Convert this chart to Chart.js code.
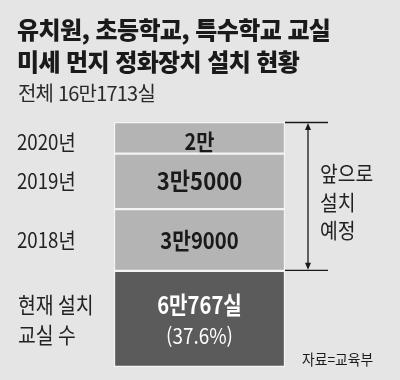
<!DOCTYPE html>
<html lang="ko">
<head>
<meta charset="utf-8">
<script src="https://cdn.jsdelivr.net/npm/chart.js@4/dist/chart.umd.min.js"></script>
<style>
  html, body { margin:0; padding:0; background:#e5e5e5; }
  body { width:400px; height:380px; position:relative; overflow:hidden; font-family:"Noto Sans CJK KR", "Noto Sans", sans-serif; color:#1e1e1e; }
  #wrap { position:absolute; left:0; top:0; width:400px; height:380px; }
  .title { position:absolute; left:17px; top:13px; font-size:24px; font-weight:900; line-height:32px; letter-spacing:-0.6px; white-space:nowrap; color:#1a1a1a; }
  .sub { position:absolute; left:18px; top:80px; font-size:20px; font-weight:400; line-height:25px; letter-spacing:-0.8px; white-space:nowrap; color:#2a2a2a; }
</style>
</head>
<body>
<div id="wrap"><canvas id="c" width="400" height="380"></canvas></div>
<div class="title">유치원, 초등학교, 특수학교 교실<br>미세 먼지 정화장치 설치 현황</div>
<div class="sub">전체 16만1713실</div>
<script>
// ---- data (bottom to top) ----
const categories = [['현재 설치', '교실 수'], ['2018년'], ['2019년'], ['2020년']];
const values = [60767, 39000, 35000, 20000];
const totalClassrooms = 161713;
const bracketLabel = ['앞으로', '설치', '예정'];
const sourceLabel = '자료=교육부';
const colors = ['#5b5b5b', '#b4b4b4', '#b4b4b4', '#b4b4b4'];

function man(v) {
  const m = Math.floor(v / 10000), r = v % 10000;
  return m + '만' + (r ? r : '');
}

const FONT = '"Noto Sans CJK KR", "Noto Sans", sans-serif';
function txt(ctx, s, x, y, size, weight, color, align, sx) {
  ctx.save();
  ctx.translate(x, y);
  ctx.scale(sx || 1, 1);
  ctx.font = weight + ' ' + size + 'px ' + FONT;
  ctx.fillStyle = color;
  ctx.textAlign = align || 'left';
  ctx.textBaseline = 'middle';
  ctx.fillText(s, 0, 0);
  ctx.restore();
}

const sum = values.reduce((a, b) => a + b, 0);

const labelPlugin = {
  id: 'labels',
  afterDatasetsDraw(chart) {
    const ctx = chart.ctx;
    const els = values.map((v, i) => chart.getDatasetMeta(i).data[0]);
    els.forEach((el, i) => {
      const cy = (el.y + el.base) / 2;
      const cx = el.x;
      if (i === 0) {
        txt(ctx, man(values[0]) + '실', cx, cy - 14, 24, 700, '#ffffff', 'center', 0.84);
        const pct = (values[0] / totalClassrooms * 100).toFixed(1);
        txt(ctx, '(' + pct + '%)', cx, cy + 17, 21, 400, '#ffffff', 'center', 0.9);
        txt(ctx, categories[0][0], 18, cy - 14, 22, 400, '#222', 'left', 0.88);
        txt(ctx, categories[0][1], 18, cy + 16, 22, 400, '#222', 'left', 0.88);
      } else {
        const size = i === 3 ? 22 : (i === 2 ? 24 : 23);
        const sx = i === 3 ? 0.9 : (i === 2 ? 0.92 : 0.88);
        txt(ctx, man(values[i]), cx, cy + (i === 3 ? 4 : 0), size, 700, '#1a1a1a', 'center', sx);
        txt(ctx, categories[i][0], 17, cy + (i === 3 ? 4 : 0), 21, 400, '#222', 'left', 0.89);
      }
    });
    // bracket
    const topY = els[3].y, botY = els[1].base;
    const right = els[0].x + els[0].width / 2;
    const ax = 308;
    ctx.save();
    ctx.strokeStyle = '#1a1a1a';
    ctx.fillStyle = '#1a1a1a';
    ctx.lineWidth = 1.3;
    ctx.beginPath();
    ctx.moveTo(right, topY + 0.5); ctx.lineTo(328, topY + 0.5);
    ctx.moveTo(right, botY - 0.5); ctx.lineTo(328, botY - 0.5);
    ctx.moveTo(ax, topY + 6); ctx.lineTo(ax, botY - 6);
    ctx.stroke();
    ctx.beginPath();
    ctx.moveTo(ax, topY + 1); ctx.lineTo(ax - 3, topY + 8); ctx.lineTo(ax + 3, topY + 8); ctx.closePath();
    ctx.moveTo(ax, botY - 1); ctx.lineTo(ax - 3, botY - 8); ctx.lineTo(ax + 3, botY - 8); ctx.closePath();
    ctx.fill();
    ctx.restore();
    const mid = (topY + botY) / 2;
    [-23, 6, 34].forEach((off, k) => {
      txt(ctx, bracketLabel[k], 320, mid + off, 21, 400, '#222', 'left', 0.92);
    });
    txt(ctx, sourceLabel, 302, 359, 15, 400, '#1a1a1a', 'left', 0.92);
  }
};

new Chart(document.getElementById('c'), {
  type: 'bar',
  data: {
    labels: ['교실'],
    datasets: values.map((v, i) => ({
      label: categories[i].join(' '),
      data: [v],
      backgroundColor: colors[i],
      borderColor: '#f4f4f4',
      borderWidth: 1.5,
      borderSkipped: false,
      barPercentage: 1,
      categoryPercentage: 1
    }))
  },
  options: {
    responsive: false,
    devicePixelRatio: 1,
    animation: false,
    layout: { padding: { top: 122, bottom: 13, left: 114, right: 115 } },
    plugins: { legend: { display: false }, tooltip: { enabled: false } },
    scales: {
      x: { stacked: true, display: false },
      y: { stacked: true, display: false, min: 0, max: sum }
    }
  },
  plugins: [labelPlugin]
});
</script>
</body>
</html>
